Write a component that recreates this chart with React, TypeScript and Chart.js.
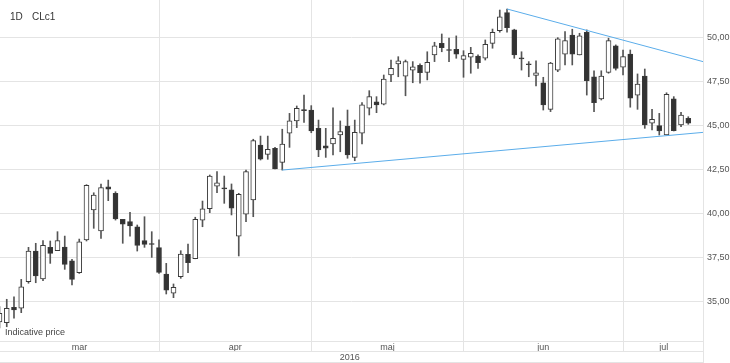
import React, { useEffect, useRef } from 'react';
import Chart from 'chart.js/auto';

// Daily CLc1 candles, one per trading day (index 0 = 1 Mar 2016)
const opens = [
  33.86, 33.81, 34.68, 34.63, 36.14, 37.88, 36.29, 38.09, 37.90, 38.11, 37.33, 36.65, 38.51, 40.21, 39.02, 41.53,
  41.16, 39.68, 39.55, 39.26, 38.47, 38.31,
  38.07, 36.57, 35.48, 36.42, 37.69, 37.44, 39.64, 40.28, 41.57, 41.47, 41.35, 38.73, 39.97, 40.78, 43.90, 43.37,
  43.72, 42.92, 44.57, 45.27, 45.92,
  45.89, 44.85, 43.85, 43.96, 44.47, 44.98, 43.20, 44.57, 45.99, 46.36, 46.22, 47.88, 48.51, 47.82, 48.16, 48.43,
  48.03, 49.02, 49.68, 49.33, 49.34,
  48.77, 48.89, 48.96, 48.83, 49.68, 50.40, 51.42, 50.44, 48.86, 48.52, 47.86, 47.44, 45.93, 48.16, 49.07, 50.15,
  49.02, 50.31, 47.78, 46.52, 48.03, 49.53,
  48.32, 49.07, 46.74, 47.82, 45.14, 45.00, 44.47, 46.52, 45.04, 45.42,
];
const highs = [
  34.72, 35.14, 35.28, 36.27, 38.09, 38.32, 38.47, 38.45, 38.98, 38.73, 37.41, 38.56, 41.65, 41.19, 41.69, 41.91,
  41.25, 39.68, 40.08, 39.36, 39.83, 38.98,
  38.51, 37.18, 36.01, 37.90, 38.28, 39.80, 40.72, 42.20, 42.39, 42.14, 41.69, 41.16, 42.48, 44.23, 44.41, 44.41,
  43.77, 44.80, 45.70, 46.12, 46.74,
  46.14, 45.32, 44.85, 46.02, 45.27, 45.89, 45.32, 46.31, 46.99, 46.65, 47.88, 48.73, 48.92, 48.73, 48.64, 48.51,
  49.20, 49.74, 50.21, 49.97, 50.10,
  49.26, 49.45, 49.02, 49.87, 50.49, 51.57, 51.63, 50.48, 49.20, 48.64, 48.68, 47.75, 48.60, 50.00, 50.34, 50.48,
  50.25, 50.44, 48.12, 48.12, 49.97, 49.59,
  49.30, 49.30, 47.94, 48.22, 45.93, 45.70, 46.87, 46.65, 45.76, 45.51,
];
const lows = [
  33.52, 33.58, 34.06, 34.38, 36.05, 36.08, 36.19, 37.18, 37.90, 36.84, 35.95, 36.61, 38.45, 39.17, 38.60, 40.74,
  39.64, 38.32, 38.73, 37.88, 38.09, 37.52,
  36.61, 35.44, 35.23, 36.33, 36.65, 37.44, 39.26, 40.06, 41.19, 40.59, 39.93, 37.60, 39.55, 39.83, 43.05, 43.09,
  42.54, 42.48, 43.77, 44.89, 45.19,
  44.60, 43.24, 43.20, 43.34, 43.52, 43.15, 43.01, 43.96, 45.61, 45.74, 46.18, 47.50, 47.78, 46.70, 47.44, 47.41,
  47.60, 48.64, 49.20, 48.64, 48.83,
  47.75, 47.98, 48.26, 48.73, 49.40, 50.31, 50.31, 48.83, 48.16, 47.78, 47.26, 45.89, 45.80, 48.07, 48.45, 48.45,
  49.02, 46.74, 45.80, 46.46, 47.98, 48.16,
  47.88, 46.05, 45.93, 44.85, 44.76, 44.47, 44.47, 44.70, 44.94, 45.08,
];
const closes = [
  34.34, 34.62, 34.53, 35.85, 37.88, 36.46, 38.20, 37.75, 38.47, 37.12, 36.27, 38.41, 41.61, 41.06, 41.48, 41.40,
  39.70, 39.40, 39.30, 38.20, 38.26, 38.25,
  36.67, 35.66, 35.82, 37.71, 37.22, 39.68, 40.28, 42.14, 41.76, 41.41, 40.31, 41.10, 42.39, 44.15, 43.10, 43.66,
  42.54, 43.96, 45.27, 45.99, 45.86,
  44.70, 43.62, 43.72, 44.28, 44.66, 43.34, 44.62, 46.18, 46.65, 46.18, 47.65, 48.26, 48.69, 48.64, 48.35, 48.01,
  48.60, 49.53, 49.43, 49.27, 49.07,
  48.98, 49.11, 48.58, 49.62, 50.31, 51.19, 50.57, 49.02, 48.80, 48.46, 48.01, 46.18, 48.55, 49.93, 49.83, 49.07,
  50.11, 47.56, 46.31, 47.82, 49.83, 48.26,
  48.92, 46.56, 47.37, 45.04, 45.36, 44.70, 46.78, 44.72, 45.61, 45.14,
];

// Axis content
const yTicks = [35, 37.5, 40, 42.5, 45, 47.5, 50];
const monthNames = ['mar', 'apr', 'maj', 'jun', 'jul'];
const monthCenters = [11.03, 32.5, 53.5, 75, 91.6];
const monthStarts = [22, 43, 64, 86];
const yearLabel = '2016';
const yearCenter = 48.3;
const X_MIN = 0.07;
const X_MAX = 97.03;
const Y_MIN = 32.77;
const Y_MAX = 52.14;

// Trend lines (index, price)
const resistanceLine = [
  { x: 70, y: 51.63 },
  { x: 97.03, y: 48.64 },
];
const supportLine = [
  { x: 39, y: 42.48 },
  { x: 97.03, y: 44.62 },
];

const GRID = '#e4e4e4';
const BLUE = '#5badea';
const TRANSPARENT = 'rgba(0,0,0,0)';

const noPad = (s: any) => {
  s.paddingTop = 0;
  s.paddingBottom = 0;
  s.paddingLeft = 0;
  s.paddingRight = 0;
};

const textPlugin = {
  id: 'texts',
  afterDatasetsDraw(chart: any) {
    const { ctx, chartArea } = chart;
    ctx.save();
    ctx.textBaseline = 'middle';
    ctx.textAlign = 'left';
    ctx.fillStyle = '#333';
    ctx.font = "10px 'Liberation Sans', Arial, sans-serif";
    ctx.fillText('1D', chartArea.left + 10, chartArea.top + 17);
    ctx.fillText('CLc1', chartArea.left + 32, chartArea.top + 17);
    ctx.fillStyle = '#444';
    ctx.font = "9px 'Liberation Sans', Arial, sans-serif";
    ctx.fillText('Indicative price', chartArea.left + 5, chartArea.bottom - 8);
    ctx.restore();
  },
};

export default function App() {
  const ref = useRef<HTMLCanvasElement | null>(null);

  useEffect(() => {
    document.body.style.margin = '0';
    Chart.defaults.font.family = "'Liberation Sans', Arial, sans-serif";
    Chart.defaults.font.size = 9;

    const bodies = opens.map((o, i) => ({ x: i, y: [o, closes[i]] }));
    const wicks = highs.map((h, i) => ({ x: i, y: [lows[i], h] }));
    const bodyColors = opens.map((o, i) => (closes[i] < o ? '#333333' : '#ffffff'));

    const boundary = new Set([...monthStarts, X_MAX]);
    const monthTicks = [...monthCenters, ...monthStarts, X_MAX].sort((a, b) => a - b);

    const chart = new Chart(ref.current!, {
      type: 'bar',
      data: {
        datasets: [
          {
            type: 'line',
            data: resistanceLine,
            borderColor: BLUE,
            borderWidth: 1,
            pointRadius: 0,
            order: 0,
          } as any,
          {
            type: 'line',
            data: supportLine,
            borderColor: BLUE,
            borderWidth: 1,
            pointRadius: 0,
            order: 0,
          } as any,
          {
            type: 'bar',
            data: bodies,
            backgroundColor: bodyColors,
            borderColor: '#3a3a3a',
            borderWidth: 1,
            borderSkipped: false,
            barThickness: 5,
            grouped: false,
            order: 1,
          } as any,
          {
            type: 'bar',
            data: wicks,
            backgroundColor: '#555555',
            borderWidth: 0,
            barThickness: 1,
            grouped: false,
            order: 2,
          } as any,
        ],
      },
      options: {
        animation: false,
        responsive: true,
        maintainAspectRatio: false,
        events: [],
        layout: { padding: 0 },
        plugins: { legend: { display: false }, tooltip: { enabled: false } },
        scales: {
          x: {
            type: 'linear',
            position: 'bottom',
            min: X_MIN,
            max: X_MAX,
            offset: false,
            weight: 0,
            afterBuildTicks: (s: any) => {
              s.ticks = monthTicks.map((v) => ({ value: v }));
            },
            afterFit: (s: any) => {
              s.height = 10;
              noPad(s);
            },
            grid: {
              offset: false,
              drawTicks: true,
              tickLength: 10,
              color: (c: any) => (c.tick && boundary.has(c.tick.value) ? GRID : TRANSPARENT),
            },
            border: { display: true, color: GRID },
            ticks: {
              autoSkip: false,
              maxRotation: 0,
              minRotation: 0,
              padding: -9,
              color: '#555',
              font: { size: 9 },
              callback: (v: any) => {
                const k = monthCenters.indexOf(Number(v));
                return k >= 0 ? monthNames[k] : '';
              },
            },
          },
          xy: {
            type: 'linear',
            position: 'bottom',
            min: X_MIN,
            max: X_MAX,
            offset: false,
            weight: 1,
            afterBuildTicks: (s: any) => {
              s.ticks = [{ value: yearCenter }, { value: X_MAX }];
            },
            afterFit: (s: any) => {
              s.height = 11;
              noPad(s);
            },
            grid: {
              offset: false,
              drawOnChartArea: false,
              drawTicks: true,
              tickLength: 11,
              color: (c: any) => (c.tick && c.tick.value === X_MAX ? GRID : TRANSPARENT),
            },
            border: { display: true, color: GRID },
            ticks: {
              autoSkip: false,
              maxRotation: 0,
              minRotation: 0,
              padding: -10,
              color: '#555',
              font: { size: 9 },
              callback: (v: any) => (Number(v) === yearCenter ? yearLabel : ''),
            },
          },
          xb: {
            type: 'linear',
            position: 'bottom',
            min: X_MIN,
            max: X_MAX,
            offset: false,
            weight: 2,
            afterFit: (s: any) => {
              s.height = 1;
              noPad(s);
            },
            grid: { display: false, offset: false },
            ticks: { display: false },
            border: { display: true, color: GRID },
          },
          y: {
            type: 'linear',
            position: 'right',
            min: Y_MIN,
            max: Y_MAX,
            afterBuildTicks: (s: any) => {
              s.ticks = yTicks.map((v) => ({ value: v }));
            },
            afterFit: (s: any) => {
              s.width = 27;
              noPad(s);
            },
            grid: { color: GRID, drawTicks: false },
            border: { display: true, color: GRID },
            ticks: {
              padding: 4,
              color: '#555',
              font: { size: 9 },
              callback: (v: any) => Number(v).toFixed(2).replace('.', ','),
            },
          },
        },
      } as any,
      plugins: [textPlugin],
    });

    return () => chart.destroy();
  }, []);

  return (
    <div style={{ position: 'relative', width: 730, height: 363 }}>
      <canvas ref={ref} />
    </div>
  );
}
